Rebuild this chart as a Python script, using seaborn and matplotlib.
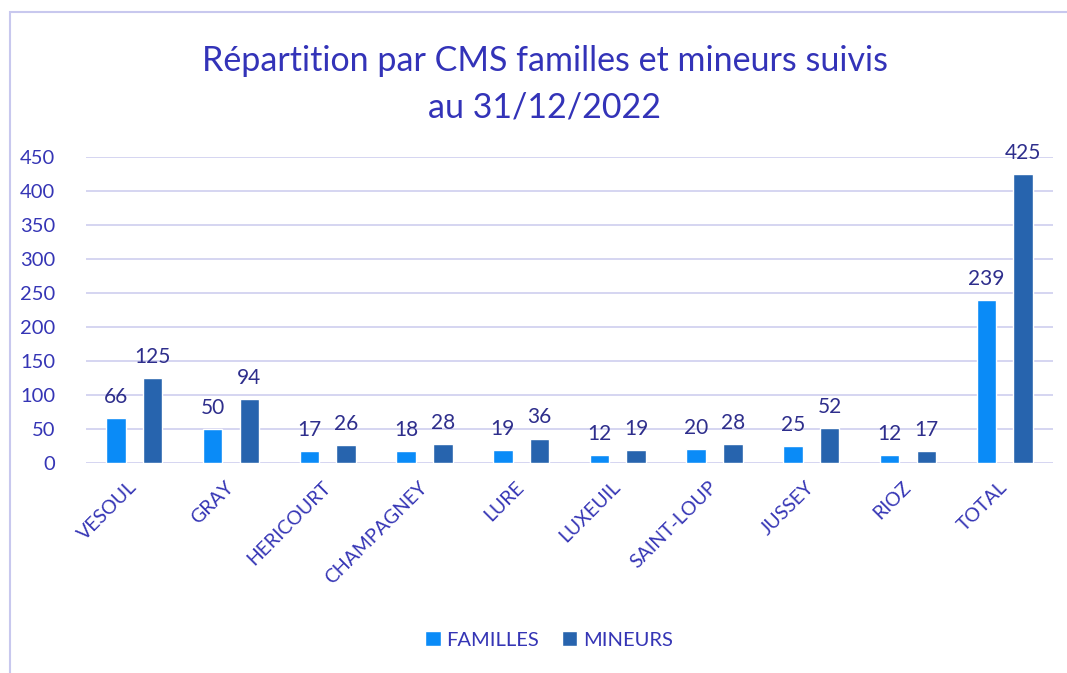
import matplotlib
matplotlib.use("Agg")
import matplotlib.pyplot as plt
import matplotlib.transforms as mtransforms
import seaborn as sns
import pandas as pd
from matplotlib.patches import Rectangle

categories = ["VESOUL", "GRAY", "HERICOURT", "CHAMPAGNEY", "LURE", "LUXEUIL",
              "SAINT-LOUP", "JUSSEY", "RIOZ", "TOTAL"]
familles = [66, 50, 17, 18, 19, 12, 20, 25, 12, 239]
mineurs = [125, 94, 26, 28, 36, 19, 28, 52, 17, 425]
series_names = ["FAMILLES", "MINEURS"]
y_ticks = [0, 50, 100, 150, 200, 250, 300, 350, 400, 450]
title = "Répartition par CMS familles et mineurs suivis\nau 31/12/2022"

df = pd.DataFrame({
    "cms": categories * 2,
    "serie": [series_names[0]] * len(categories) + [series_names[1]] * len(categories),
    "valeur": familles + mineurs,
})

sns.set_theme(style="white")
plt.rcParams["font.family"] = ["Lato", "DejaVu Sans"]

text_col = "#3535B5"
label_col = "#2E2E8C"
grid_col = "#D2D2F0"
colors = {"FAMILLES": "#0A8BF7", "MINEURS": "#2764AE"}

fig = plt.figure(figsize=(10.67, 6.73), dpi=100)
fig.patches.append(Rectangle((10 / 1067, -0.01), 1.1, 1 - 12 / 673 + 0.01,
                             transform=fig.transFigure, fill=False,
                             edgecolor="#C8C8EE", linewidth=1.5))
ax = fig.add_axes([86 / 1067, 1 - 463 / 673, (1053 - 86) / 1067, (463 - 157) / 673])

sns.barplot(data=df, x="cms", y="valeur", hue="serie", palette=colors,
            width=0.76, gap=0.47, ax=ax, legend=True, saturation=1)

for c in ax.containers:
    ax.bar_label(c, padding=8, color=label_col, fontsize=15)

ax.set_ylim(0, 450)
ax.set_yticks(y_ticks)
ax.yaxis.grid(True, color=grid_col, linewidth=1.3)
ax.set_axisbelow(True)
for s in ax.spines.values():
    s.set_visible(False)
ax.tick_params(axis="y", length=0, pad=22, labelsize=14.5, labelcolor=text_col)
ax.tick_params(axis="x", length=0, pad=11, labelsize=14, labelcolor=text_col)
ax.set_xticks(range(len(categories)))
ax.set_xticklabels(categories, rotation=45, ha="right", rotation_mode="anchor")
offset = mtransforms.ScaledTranslation(-6 / 100, 0, fig.dpi_scale_trans)
for lab in ax.get_xticklabels():
    lab.set_transform(lab.get_transform() + offset)
ax.set_xlabel("")
ax.set_ylabel("")
ax.set_xlim(-0.5, len(categories) - 0.5)

leg = ax.legend(loc="center", bbox_to_anchor=(549 / 1067, 1 - 640 / 673),
                bbox_transform=fig.transFigure, ncol=2, frameon=False,
                fontsize=14.5, handlelength=0.75, handleheight=0.75,
                handletextpad=0.3, columnspacing=1.1)
for t in leg.get_texts():
    t.set_color(text_col)

fig.text(545 / 1067, 1 - 84 / 673, title, ha="center", va="center",
         fontsize=24.5, color="#3333B8", linespacing=1.55)

fig.savefig("out.png", dpi=100)
